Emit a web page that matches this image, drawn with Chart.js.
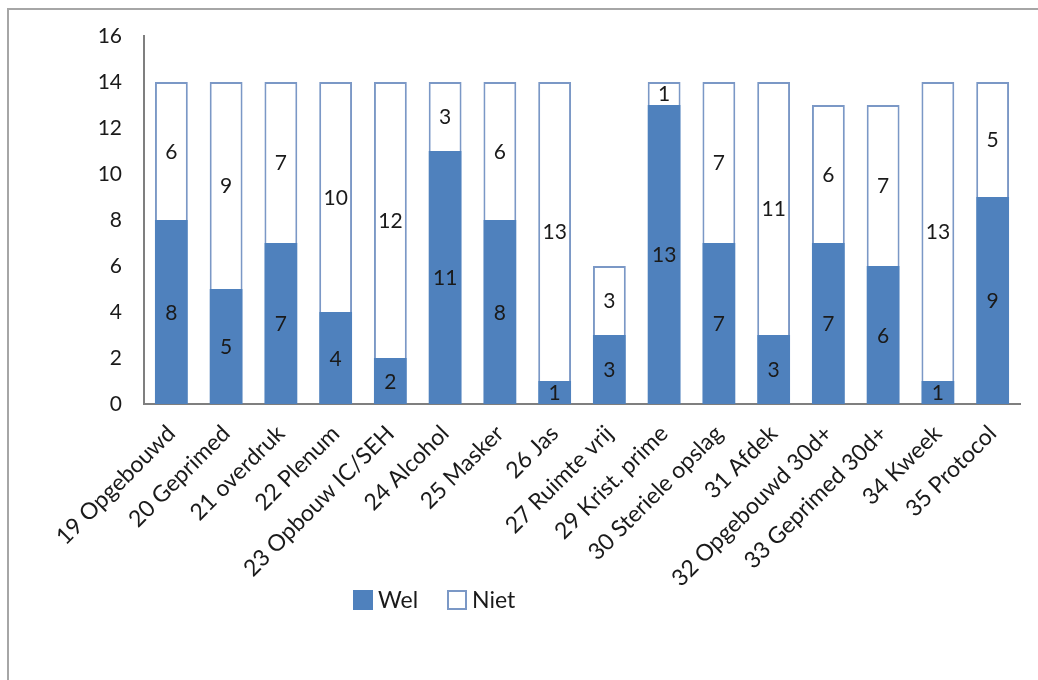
<!DOCTYPE html>
<html>
<head>
<meta charset="utf-8">
<script src="https://cdn.jsdelivr.net/npm/chart.js@4/dist/chart.umd.min.js"></script>
<style>
  html, body { margin: 0; padding: 0; background: #fff; }
  #wrap { width: 1038px; height: 680px; position: relative; }
</style>
</head>
<body>
<div id="wrap"><canvas id="c" width="1038" height="680"></canvas></div>
<script>
// Categories (questions) along the x axis
const categories = [
  '19 Opgebouwd', '20 Geprimed', '21 overdruk', '22 Plenum', '23 Opbouw IC/SEH',
  '24 Alcohol', '25 Masker', '26 Jas', '27 Ruimte vrij', '29 Krist. prime',
  '30 Steriele opslag', '31 Afdek', '32 Opgebouwd 30d+', '33 Geprimed 30d+',
  '34 Kweek', '35 Protocol'
];
// Counts per answer
const welValues  = [8, 5, 7, 4, 2, 11, 8, 1, 3, 13, 7, 3, 7, 6, 1, 9];
const nietValues = [6, 9, 7, 10, 12, 3, 6, 13, 3, 1, 7, 11, 6, 7, 13, 5];
const seriesNames = ['Wel', 'Niet'];
// Y axis range
const yMin = 0, yMax = 16, yStep = 2;

const FONT = 'Lato, "Open Sans", sans-serif';
const TEXT = '#1a1a1a';
const BLUE = '#4f81bd';
const EDGE = '#7b98c6';

// Thin frame along the top and left edges of the picture
const framePlugin = {
  id: 'frame',
  beforeDraw(chart) {
    const ctx = chart.ctx;
    ctx.save();
    ctx.fillStyle = '#fff';
    ctx.fillRect(0, 0, chart.width, chart.height);
    ctx.strokeStyle = '#a6a6a6';
    ctx.lineWidth = 2;
    ctx.beginPath();
    ctx.moveTo(8, chart.height);
    ctx.lineTo(8, 9);
    ctx.lineTo(chart.width, 9);
    ctx.stroke();
    ctx.restore();
  }
};

// Value written in the middle of each bar segment
const segmentLabels = {
  id: 'segmentLabels',
  afterDatasetsDraw(chart) {
    const ctx = chart.ctx;
    ctx.save();
    ctx.font = '21px ' + FONT;
    ctx.fillStyle = TEXT;
    ctx.textAlign = 'center';
    ctx.textBaseline = 'middle';
    chart.data.datasets.forEach((ds, di) => {
      const meta = chart.getDatasetMeta(di);
      meta.data.forEach((bar, i) => {
        const v = ds.data[i];
        if (!v) return;
        const p = bar.getProps(['x', 'y', 'base'], true);
        ctx.fillText(String(v), p.x, (p.y + p.base) / 2 + 1);
      });
    });
    ctx.restore();
  }
};

// Legend row below the category labels
const legendRow = {
  id: 'legendRow',
  afterDraw(chart) {
    const ctx = chart.ctx;
    const items = [
      { x: 353, text: seriesNames[0], fill: BLUE, stroke: BLUE },
      { x: 447, text: seriesNames[1], fill: '#fff', stroke: EDGE }
    ];
    const top = 590, size = 20;
    ctx.save();
    ctx.font = '23px ' + FONT;
    ctx.textBaseline = 'middle';
    ctx.textAlign = 'left';
    items.forEach(it => {
      ctx.fillStyle = it.fill;
      ctx.fillRect(it.x, top, size, size);
      ctx.strokeStyle = it.stroke;
      ctx.lineWidth = 2;
      ctx.strokeRect(it.x + 1, top + 1, size - 2, size - 2);
      ctx.fillStyle = TEXT;
      ctx.fillText(it.text, it.x + size + 5, top + size / 2 + 1);
    });
    ctx.restore();
  }
};

new Chart(document.getElementById('c'), {
  type: 'bar',
  data: {
    labels: categories,
    datasets: [
      {
        label: seriesNames[0],
        data: welValues,
        backgroundColor: BLUE,
        borderWidth: 0,
        categoryPercentage: 1,
        barPercentage: 0.6
      },
      {
        label: seriesNames[1],
        data: nietValues,
        backgroundColor: '#ffffff',
        borderColor: EDGE,
        borderWidth: 2,
        borderSkipped: 'start',
        categoryPercentage: 1,
        barPercentage: 0.6
      }
    ]
  },
  options: {
    responsive: false,
    animation: false,
    devicePixelRatio: 1,
    layout: { padding: { left: 0, right: 18, top: 36, bottom: 76 } },
    plugins: {
      legend: { display: false },
      tooltip: { enabled: false }
    },
    scales: {
      x: {
        stacked: true,
        grid: { display: false },
        border: { display: true, color: '#7f7f7f', width: 2 },
        ticks: {
          autoSkip: false,
          minRotation: 45,
          maxRotation: 45,
          padding: 8,
          color: TEXT,
          font: { family: FONT, size: 23 }
        },
        afterFit(scale) { scale.height = 200; }
      },
      y: {
        stacked: true,
        min: yMin,
        max: yMax,
        grid: { display: false },
        border: { display: true, color: '#7f7f7f', width: 2 },
        ticks: {
          stepSize: yStep,
          padding: 14,
          color: TEXT,
          font: { family: FONT, size: 21 }
        },
        afterFit(scale) { scale.width = 144; }
      }
    }
  },
  plugins: [framePlugin, segmentLabels, legendRow]
});
</script>
</body>
</html>
